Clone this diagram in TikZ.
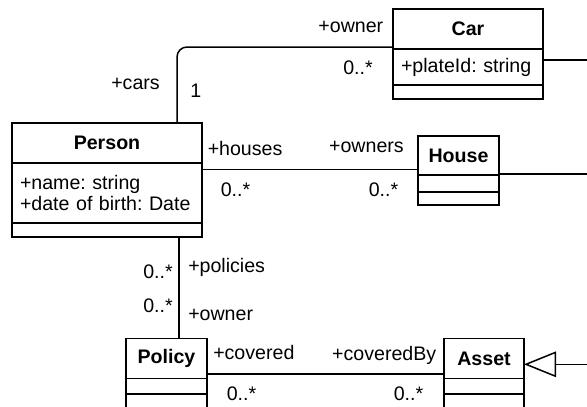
\documentclass[tikz,border=0pt]{standalone}
\usepackage{fontspec}
\setmainfont{Liberation Sans}
\usetikzlibrary{positioning,arrows.meta}
\frenchspacing

\begin{document}
\begin{tikzpicture}[x=1pt, y=-1pt, line width=1.5pt, font=\fontsize{19.6}{21.3}\selectfont]
    % Define styles
    \tikzstyle{classhead} = [rectangle, draw, outer sep=0pt, inner sep=0pt, minimum height=40pt, font=\fontsize{19.6}{21.3}\selectfont\bfseries]
    \tikzstyle{compart} = [rectangle, draw, outer sep=0pt, inner sep=0pt]
    \tikzstyle{attrs} = [compart, inner xsep=8pt, align=left]
    \tikzstyle{role} = [inner sep=0pt]
    \tikzstyle{assoc} = [draw]
    \tikzstyle{inherit} = [draw, -{Triangle[open, length=32pt, width=25.5pt]}]

    \useasboundingbox (0,0) rectangle (587,407);
    \clip (0,0) rectangle (587,407);

    % Classes
    \node [classhead, minimum width=190pt] (person) at (107,143) {Person};
    \node [attrs, below=0pt of person, text width=174pt, minimum height=60pt] (personattr) {+name: string\\+date of birth: Date};
    \node [compart, below=0pt of personattr, minimum width=190pt, minimum height=14pt] (personops) {};

    \node [classhead, minimum width=150pt] (car) at (468,29) {Car};
    \node [attrs, below=0pt of car, text width=134pt, minimum height=36pt] (carattr) {+plateId: string};
    \node [compart, below=0pt of carattr, minimum width=150pt, minimum height=14pt] (carops) {};

    \node [classhead, minimum width=81pt, minimum height=39pt] (house) at (458.5,155.5) {House};
    \node [compart, below=0pt of house, minimum width=81pt, minimum height=17pt] (houseattr) {};
    \node [compart, below=0pt of houseattr, minimum width=81pt, minimum height=13pt] (houseops) {};

    \node [classhead, minimum width=81pt] (policy) at (166.5,358.5) {Policy};
    \node [compart, below=0pt of policy, minimum width=81pt, minimum height=15.5pt] (policyattr) {};
    \node [compart, below=0pt of policyattr, minimum width=81pt, minimum height=20pt] (policyops) {};

    \node [classhead, minimum width=80pt] (asset) at (484,358.5) {Asset};
    \node [compart, below=0pt of asset, minimum width=80pt, minimum height=15.5pt] (assetattr) {};
    \node [compart, below=0pt of assetattr, minimum width=80pt, minimum height=20pt] (assetops) {};

    % Connection points
    \coordinate (rim) at (587,0);
    \coordinate (ph) at ([yshift=-6.3pt]personattr.north east);
    \coordinate (pp) at ([xshift=72pt]personops.south);
    \coordinate (pa) at ([yshift=-15.5pt]policy.east);
    \coordinate (cr) at ([yshift=7pt]carattr.east);
    \coordinate (hr) at ([yshift=-18.5pt]house.east);
    \coordinate (ar) at ([yshift=-5.8pt]asset.east);

    % Associations
    \draw [assoc, rounded corners=10pt] ([xshift=70pt]person.north) |- ([yshift=-18pt]car.west);
    \draw [assoc] (ph) -- (ph -| house.west);
    \draw [assoc] (pp) -- (pp |- policy.north);
    \draw [assoc] (pa) -- (pa -| asset.west);
    \draw [assoc] (cr) -- (cr -| rim);
    \draw [assoc] (hr) -- (hr -| rim);
    \draw [inherit] (ar -| rim) -- (ar);

    % Role names and multiplicities
    \node [role, anchor=base east] (carowner) at (384,32.7) {+owner};
    \node [role, anchor=base east] (carmult) at (373.5,74) {0..*};
    \node [role, anchor=base east] (cars) at (160.5,89.3) {+cars};
    \node [role, anchor=base west] (carsmult) at (189.5,97.3) {1};
    \node [role, anchor=base west] (houses) at (207,155) {+houses};
    \node [role, anchor=base west] (housesmult) at (220,196.7) {0..*};
    \node [role, anchor=base east] (owners) at (404.5,152.7) {+owners};
    \node [role, anchor=base east] (ownersmult) at (399,196.7) {0..*};
    \node [role, anchor=base west] (policies) at (187.5,272.5) {+policies};
    \node [role, anchor=base east] (policiesmult) at (173.5,278.3) {0..*};
    \node [role, anchor=base east] (ownermult) at (173.5,312.7) {0..*};
    \node [role, anchor=base west] (owner) at (187.5,320) {+owner};
    \node [role, anchor=base west] (covered) at (212.5,359) {+covered};
    \node [role, anchor=base west] (coveredmult) at (226,400.7) {0..*};
    \node [role, anchor=base east] (coveredby) at (437,360.7) {+coveredBy};
    \node [role, anchor=base east] (coveredbymult) at (424,400.7) {0..*};
\end{tikzpicture}
\end{document}
